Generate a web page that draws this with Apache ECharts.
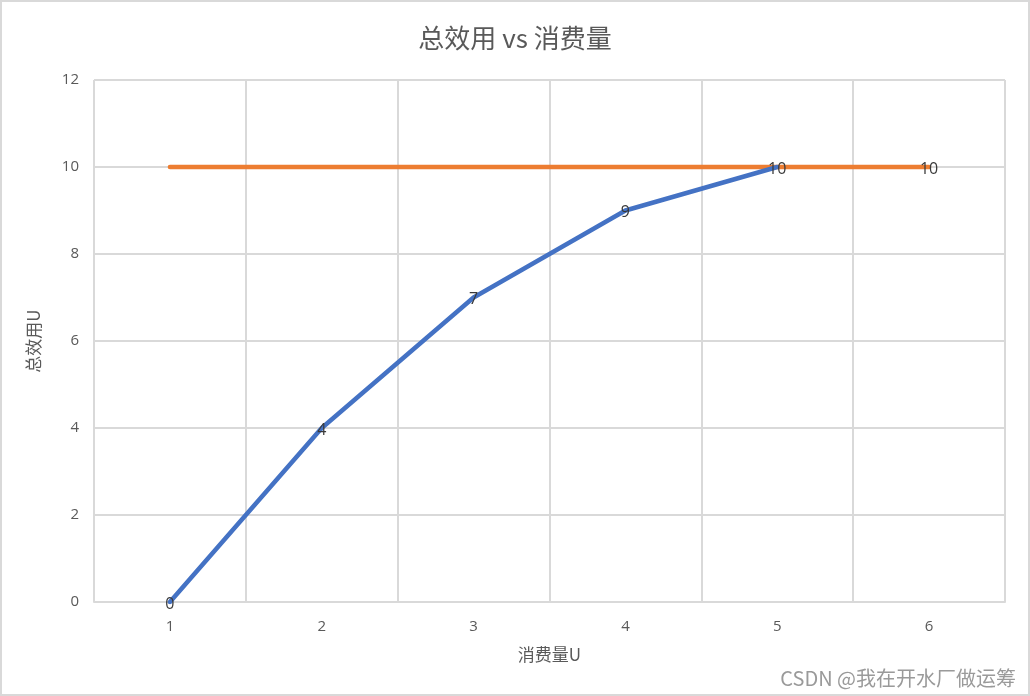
<!DOCTYPE html>
<html>
<head>
<meta charset="utf-8">
<script src="https://cdn.jsdelivr.net/npm/echarts@6/dist/echarts.min.js"></script>
<style>
html,body{margin:0;padding:0;background:#fff;}
#c{position:absolute;left:0;top:0;width:1026px;height:692px;border:2px solid #d9d9d9;}
</style>
</head>
<body>
<div id="c"></div>
<script>
const categories = ['1', '2', '3', '4', '5', '6'];
const totalUtility = [0, 4, 7, 9, 10, null];
const maxUtility = [10, 10, 10, 10, 10, 10];
const yTicks = [0, 2, 4, 6, 8, 10, 12];

const FONT = "'Open Sans', 'Noto Sans CJK SC', sans-serif";
const CJK = "'Noto Sans CJK SC', sans-serif";
const chart = echarts.init(document.getElementById('c'), null, {renderer: 'canvas'});
const option = {
  animation: false,
  textStyle: {fontFamily: FONT},
  title: {
    text: '总效用 vs 消费量',
    left: 'center',
    top: 18,
    textStyle: {fontFamily: CJK, fontSize: 26, fontWeight: 'normal', color: '#595959'}
  },
  grid: {left: 92, right: 23, top: 78, bottom: 92, containLabel: false},
  xAxis: {
    type: 'category',
    data: categories,
    boundaryGap: true,
    name: '消费量U',
    nameLocation: 'middle',
    nameGap: 44,
    nameTextStyle: {fontFamily: CJK, fontSize: 17, color: '#595959'},
    axisLine: {show: true, lineStyle: {color: '#d9d9d9', width: 2}},
    axisTick: {show: false},
    axisLabel: {fontSize: 15, color: '#595959', margin: 17},
    splitLine: {show: true, lineStyle: {color: '#d9d9d9', width: 2}}
  },
  yAxis: {
    type: 'value',
    min: yTicks[0],
    max: yTicks[yTicks.length - 1],
    interval: 2,
    name: '总效用U',
    nameLocation: 'middle',
    nameGap: 52,
    nameTextStyle: {fontFamily: CJK, fontSize: 17, color: '#595959'},
    axisLine: {show: false},
    axisTick: {show: false},
    axisLabel: {fontSize: 15, color: '#595959', margin: 15},
    splitLine: {show: true, lineStyle: {color: '#d9d9d9', width: 2}}
  },
  series: [
    {
      name: '总效用',
      type: 'line',
      data: totalUtility,
      symbol: 'circle',
      symbolSize: 2,
      showSymbol: true,
      itemStyle: {color: 'rgba(0,0,0,0)', borderWidth: 0},
      lineStyle: {color: '#4472C4', width: 4.5, cap: 'round', join: 'round'},
      label: {show: true, position: 'inside', offset: [0, 2], color: '#3a3a3a', fontSize: 16},
      z: 3
    },
    {
      name: '最大',
      type: 'line',
      data: maxUtility.map((v, i) => i === maxUtility.length - 1 ? {value: v, label: {show: true}} : v),
      symbol: 'circle',
      symbolSize: 2,
      showSymbol: true,
      itemStyle: {color: 'rgba(0,0,0,0)', borderWidth: 0},
      lineStyle: {color: '#ED7D31', width: 4.5, cap: 'round', join: 'round'},
      label: {show: false, position: 'inside', offset: [0, 2], color: '#3a3a3a', fontSize: 16},
      z: 2
    }
  ],
  graphic: [{
    type: 'text',
    right: 12,
    bottom: 6,
    style: {text: 'CSDN @我在开水厂做运筹', font: "20px 'Noto Sans CJK SC', sans-serif", fill: '#9a9a9a'}
  }]
};
chart.setOption(option);
</script>
</body>
</html>
